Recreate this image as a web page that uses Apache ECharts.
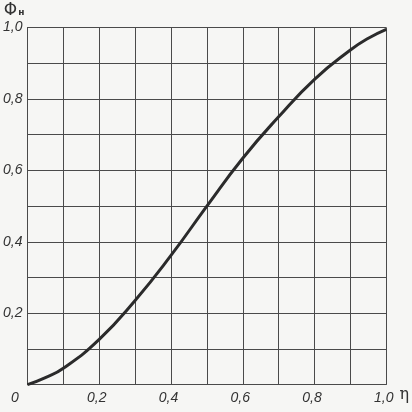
<!DOCTYPE html>
<html>
<head>
<meta charset="utf-8">
<script src="https://cdn.jsdelivr.net/npm/echarts@6/dist/echarts.min.js"></script>
<style>
html,body{margin:0;padding:0;background:#f6f6f4;}
#chart{width:412px;height:412px;}
</style>
</head>
<body>
<div id="chart"></div>
<script>
// Data
const etaValues = [0, 0.05, 0.1, 0.2, 0.3, 0.4, 0.5, 0.6, 0.7, 0.8, 0.9, 0.95, 1.0];
const phiValues = [0, 0.02, 0.046, 0.127, 0.236, 0.362, 0.5, 0.634, 0.75, 0.855, 0.937, 0.97, 0.995];
const xAxisName = 'η';
const yAxisName = 'Φ';
const yAxisSub = 'н';

const points = etaValues.map((x, i) => [x, phiValues[i]]);
const fmt = v => v.toFixed(1).replace('.', ',');
const isMajor = v => Math.round(v * 10) % 2 === 0;
const lineColor = '#4a4a4a';
const textColor = '#333';
const font = "'Liberation Sans Narrow', 'Liberation Sans', sans-serif";

const chart = echarts.init(document.getElementById('chart'));
chart.setOption({
  animation: false,
  backgroundColor: '#f6f6f4',
  grid: { left: 24.5, right: 20.3, top: 27.5, bottom: 27.3, containLabel: false },
  xAxis: {
    type: 'value', min: 0, max: 1, interval: 0.1,
    name: xAxisName, nameLocation: 'end', nameGap: 7,
    nameTextStyle: { color: textColor, fontSize: 16, fontFamily: 'DejaVu Serif', verticalAlign: 'top', padding: [2, 0, 0, 0] },
    axisLine: { show: true, lineStyle: { color: lineColor, width: 1 } },
    axisTick: { show: false },
    splitLine: { show: true, lineStyle: { color: lineColor, width: 1 } },
    axisLabel: {
      margin: 6, color: textColor, fontSize: 14, fontStyle: 'italic', fontFamily: font,
      padding: [0, 5, 0, 0],
      formatter: v => v === 0 ? '{z|0}' : (isMajor(v) ? fmt(v) : ''),
      rich: { z: { padding: [0, 20, 0, 0], fontSize: 14, fontStyle: 'italic', fontFamily: font, color: textColor } }
    }
  },
  yAxis: {
    type: 'value', min: 0, max: 1, interval: 0.1,
    name: '{a|' + yAxisName + '}{b|' + yAxisSub + '}', nameLocation: 'end', nameGap: 8,
    nameTextStyle: {
      align: 'right', padding: [0, 3, 0, 0],
      rich: {
        a: { fontSize: 17, color: textColor, fontFamily: 'DejaVu Sans' },
        b: { fontSize: 9, color: textColor, fontFamily: 'DejaVu Sans', fontWeight: 'bold', padding: [4, 0, 0, 1] }
      }
    },
    axisLine: { show: true, lineStyle: { color: lineColor, width: 1 } },
    axisTick: { show: false },
    splitLine: { show: true, lineStyle: { color: lineColor, width: 1 } },
    axisLabel: {
      margin: 5, color: textColor, fontSize: 14, fontStyle: 'italic', fontFamily: font,
      formatter: v => (v !== 0 && isMajor(v)) ? fmt(v) : ''
    }
  },
  series: [{
    type: 'line', data: points, smooth: 0.5, showSymbol: false,
    lineStyle: { color: '#2b2b2b', width: 3 }
  }]
});
</script>
</body>
</html>
